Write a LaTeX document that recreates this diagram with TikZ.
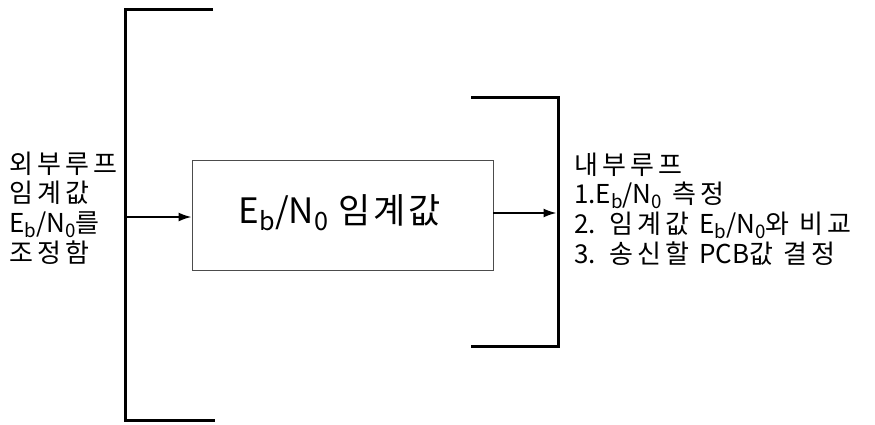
\documentclass[tikz,border=0pt]{standalone}
\usepackage{fontspec}
\setmainfont{Noto Sans CJK KR}
\newfontfamily\lblfont[LetterSpace=16]{Noto Sans CJK KR}
\newfontfamily\latfont{Noto Sans CJK KR}
\newfontfamily\boxfont[LetterSpace=8]{Noto Sans CJK KR}
\newcommand\lowsub[1]{\raisebox{-0.2em}{\scalebox{0.72}{#1}}}
\newcommand\lat[1]{{\latfont #1}}
\newcommand\ebno{\lat{E\lowsub{b}/N\lowsub{0}}}
\usetikzlibrary{arrows.meta}
\begin{document}
\begin{tikzpicture}[x=1pt,y=-1pt,
  bracket/.style={line width=3pt},
  conn/.style={line width=1.8pt,-{Latex[length=13pt,width=9pt]}},
  blk/.style={draw=black!70,line width=0.9pt,minimum width=301pt,minimum height=110pt,inner sep=0pt},
  lbl/.style={anchor=base west,inner sep=0pt,text height=19pt,text depth=5pt,font=\lblfont\fontsize{26}{29.5}\selectfont}
]
\useasboundingbox (0,0) rectangle (875,424);
% left bracket
\draw[bracket] (213,9) -- (125,9) -- (125,420) -- (215,420);
% right bracket
\draw[bracket] (471,97) -- (558,97) -- (558,346) -- (471,346);
\coordinate (lb) at (125,217);
\coordinate (rb) at (556.5,213);
% box
\node[blk] (box) at (342.5,215) {};
\node[inner sep=0pt,font=\boxfont\fontsize{35}{40}\selectfont] (boxt) at (340,213) {\lat{E\lowsub{b}/N\lowsub{0}} 임계값};
\draw[conn] (lb) -- (box.west |- lb);
\draw[conn] (box.east |- rb) -- (rb);
% left texts
\node[lbl] (l1) at (9,173) {외부루프};
\node[lbl] (l2) at (9,202.5) {임계값};
\node[lbl] (l3) at (9,232) {\ebno 를};
\node[lbl] (l4) at (9,262) {조정함};
% right texts
\node[lbl] (r1) at (574,174) {내부루프};
\node[lbl] (r2) at (574,203.5) {\lat{1.}\ebno\ 측정};
\node[lbl] (r3) at (574,233.5) {\lat{2.} 임계값 \ebno 와 비교};
\node[lbl] (r4) at (574,263.5) {\lat{3.} 송신할 \lat{PCB}값 결정};
\end{tikzpicture}
\end{document}
